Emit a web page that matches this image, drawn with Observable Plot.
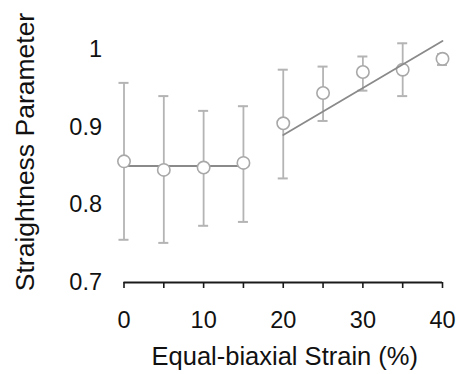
<!DOCTYPE html>
<html>
<head>
<meta charset="utf-8">
<script src="https://cdn.jsdelivr.net/npm/d3@7"></script>
<script src="https://cdn.jsdelivr.net/npm/@observablehq/plot@0.6"></script>
<style>
  html, body { margin: 0; padding: 0; background: #fff; }
  #chart svg { display: block; }
</style>
</head>
<body>
<div id="chart"></div>
<script>
// Data
const strain = [0, 5, 10, 15, 20, 25, 30, 35, 40];
const meanVal = [0.856, 0.845, 0.848, 0.854, 0.905, 0.944, 0.971, 0.974, 0.988];
const upperVal = [0.957, 0.940, 0.921, 0.927, 0.974, 0.978, 0.991, 1.008, 0.994];
const lowerVal = [0.755, 0.751, 0.773, 0.778, 0.834, 0.908, 0.947, 0.940, 0.980];
const flatFit = [{x: 0, y: 0.850}, {x: 15, y: 0.850}];
const trendFit = [{x: 20, y: 0.890}, {x: 40, y: 1.011}];
const xTicks = [0, 5, 10, 15, 20, 25, 30, 35, 40];
const yTicks = [0.7, 0.8, 0.9, 1];
const xLabel = "Equal-biaxial Strain (%)";
const yLabel = "Straightness Parameter";

const rows = strain.map((x, i) => ({x, y: meanVal[i], hi: upperVal[i], lo: lowerVal[i]}));
const capHalf = 0.63;

const font = "Liberation Sans, Arial, Helvetica, sans-serif";
const barColor = "#b4b4b4";
const dotColor = "#a8a8a8";
const fitColor = "#8a8a8a";

const chart = Plot.plot({
  width: 460,
  height: 374,
  marginLeft: 123.5,
  marginRight: 18,
  marginTop: 49,
  marginBottom: 92,
  style: {fontFamily: font, background: "#fff", color: "#111"},
  x: {domain: [0, 40]},
  y: {domain: [0.7, 1.0]},
  marks: [
    // error bars
    Plot.ruleX(rows, {x: "x", y1: "lo", y2: "hi", stroke: barColor, strokeWidth: 1.8}),
    Plot.ruleY(rows, {y: "hi", x1: d => d.x - capHalf, x2: d => d.x + capHalf, stroke: barColor, strokeWidth: 2}),
    Plot.ruleY(rows, {y: "lo", x1: d => d.x - capHalf, x2: d => d.x + capHalf, stroke: barColor, strokeWidth: 2}),
    // flat fit
    Plot.line(flatFit, {x: "x", y: "y", stroke: fitColor, strokeWidth: 1.8}),
    // mean markers
    Plot.dot(rows, {x: "x", y: "y", r: 6.2, fill: "#fff", stroke: dotColor, strokeWidth: 1.6}),
    // trend fit
    Plot.line(trendFit, {x: "x", y: "y", stroke: fitColor, strokeWidth: 1.8}),
    // x axis line
    Plot.ruleY([0.7], {stroke: "#1a1a1a", strokeWidth: 2}),
    Plot.axisX({ticks: xTicks, tickSize: 6, tickPadding: 23, strokeWidth: 1.6, stroke: "#1a1a1a",
      tickFormat: d => d % 10 === 0 ? String(d) : "", fontSize: 23.5, fill: "#111", label: null}),
    Plot.axisY({ticks: yTicks, tickSize: 0, tickPadding: 22,
      tickFormat: d => String(d), fontSize: 23.5, fill: "#111", label: null}),
    // axis titles
    Plot.text([xLabel], {frameAnchor: "bottom", text: d => d, dx: 1.5, dy: 74.7, lineAnchor: "middle",
      textAnchor: "middle", fontSize: 25.5, fill: "#111"}),
    Plot.text([yLabel], {frameAnchor: "left", text: d => d, rotate: -90, dx: -98.8, dy: -14, lineAnchor: "middle",
      textAnchor: "middle", fontSize: 26.5, fill: "#111"})
  ]
});
document.getElementById("chart").appendChild(chart);
</script>
</body>
</html>
